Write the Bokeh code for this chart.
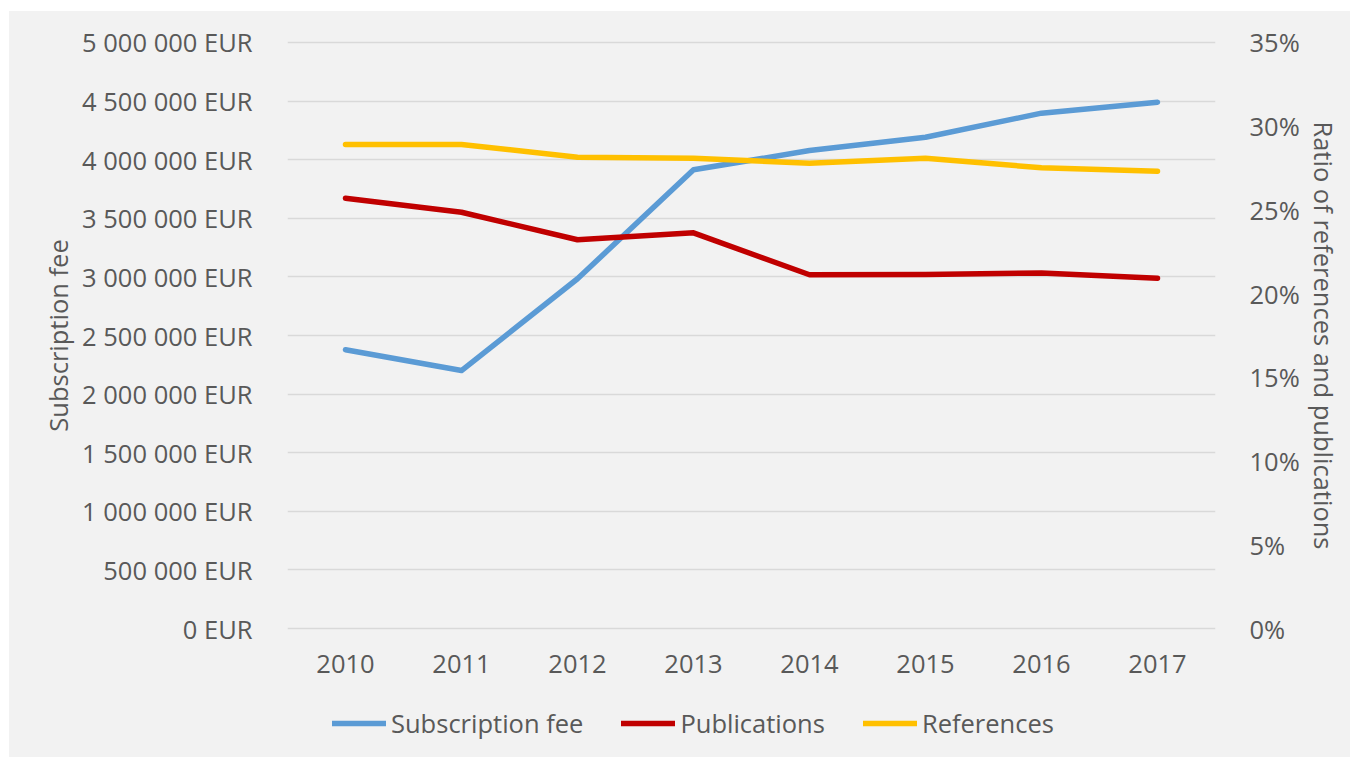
from bokeh.plotting import figure
from bokeh.models import Range1d, LinearAxis, FixedTicker, Legend, LegendItem, Spacer
from bokeh.layouts import row, column
from bokeh.embed import file_html
from bokeh.resources import INLINE

years = ["2010", "2011", "2012", "2013", "2014", "2015", "2016", "2017"]
subscription_fee = [2378000, 2201000, 2984000, 3914000, 4078000, 4192000, 4397000, 4491000]
publications_pct = [25.70, 24.86, 23.22, 23.63, 21.13, 21.14, 21.24, 20.92]
references_pct = [28.91, 28.91, 28.15, 28.09, 27.79, 28.09, 27.52, 27.31]
series_names = ["Subscription fee", "Publications", "References"]
series_colors = ["#5b9bd5", "#c00000", "#ffc000"]

left_ticks = list(range(0, 5000001, 500000))
left_labels = {t: f"{t:,}".replace(",", " ") + " EUR" for t in left_ticks}
right_ticks = list(range(0, 36, 5))
right_labels = {t: f"{t}%" for t in right_ticks}

FONT = "Open Sans"
TXT = "#595959"
FS = "25.5px"
BG = "#f2f2f2"
LW = 5.5

# small range padding so the 0 and top gridlines are drawn inside the frame
PAD_L = 17000
PAD_R = 0.119

p = figure(x_range=years, y_range=Range1d(-PAD_L, 5000000 + PAD_L), width=1341, height=669,
           output_backend="svg", toolbar_location=None,
           min_border_left=278, min_border_right=135, min_border_top=29, min_border_bottom=50)
p.background_fill_color = BG
p.border_fill_color = BG
p.outline_line_color = None
p.extra_y_ranges = {"pct": Range1d(-PAD_R, 35 + PAD_R)}

p.xgrid.grid_line_color = None
p.ygrid.grid_line_color = "#d9d9d9"
p.ygrid.grid_line_width = 1.5
p.ygrid.ticker = FixedTicker(ticks=left_ticks)

p.yaxis.ticker = FixedTicker(ticks=left_ticks)
p.yaxis.major_label_overrides = left_labels
p.yaxis.axis_label = "Subscription fee"

right = LinearAxis(y_range_name="pct", ticker=FixedTicker(ticks=right_ticks),
                   major_label_overrides=right_labels,
                   axis_label="Ratio of references and publications")
p.add_layout(right, "right")

for ax in [p.xaxis[0], p.yaxis[0], right]:
    ax.axis_line_color = None
    ax.major_tick_line_color = None
    ax.minor_tick_line_color = None
    ax.major_label_text_font = FONT
    ax.major_label_text_font_size = FS
    ax.major_label_text_color = TXT
    ax.axis_label_text_font = FONT
    ax.axis_label_text_font_size = FS
    ax.axis_label_text_color = TXT
    ax.axis_label_text_font_style = "normal"

p.xaxis.major_label_standoff = 18
p.yaxis[0].major_label_standoff = 29
p.yaxis[0].axis_label_standoff = 4
right.major_label_standoff = 28
right.axis_label_standoff = 4

p.line(years, subscription_fee, line_color=series_colors[0], line_width=LW, line_cap="round", line_join="round")
p.line(years, publications_pct, y_range_name="pct", line_color=series_colors[1], line_width=LW, line_cap="round", line_join="round")
p.line(years, references_pct, y_range_name="pct", line_color=series_colors[2], line_width=LW, line_cap="round", line_join="round")

# legend strip below the chart (its renderers sit outside the visible range)
p2 = figure(width=1341, height=77, x_range=Range1d(0, 1), y_range=Range1d(0, 1),
            output_backend="svg", toolbar_location=None,
            x_axis_location=None, y_axis_location=None,
            min_border_left=278, min_border_right=135, min_border_top=0, min_border_bottom=0)
p2.background_fill_color = BG
p2.border_fill_color = BG
p2.outline_line_color = None
p2.grid.grid_line_color = None
items = []
for name, col in zip(series_names, series_colors):
    r = p2.line(x=[-2, -1], y=[-2, -2], line_color=col, line_width=LW, line_cap="round")
    items.append(LegendItem(label=name, renderers=[r]))
legend = Legend(items=items, orientation="horizontal", location=(45, 17),
                label_text_font=FONT, label_text_font_size=FS, label_text_color=TXT,
                glyph_width=54, glyph_height=30, label_standoff=5, spacing=38,
                padding=0, margin=0, background_fill_alpha=0, border_line_color=None)
p2.add_layout(legend, "center")

chart = column(p, p2, spacing=0, styles={"background-color": BG})
layout = row(Spacer(width=9, height=757), column(Spacer(width=1341, height=11), chart))

open("out.html", "w").write(file_html(layout, INLINE))
